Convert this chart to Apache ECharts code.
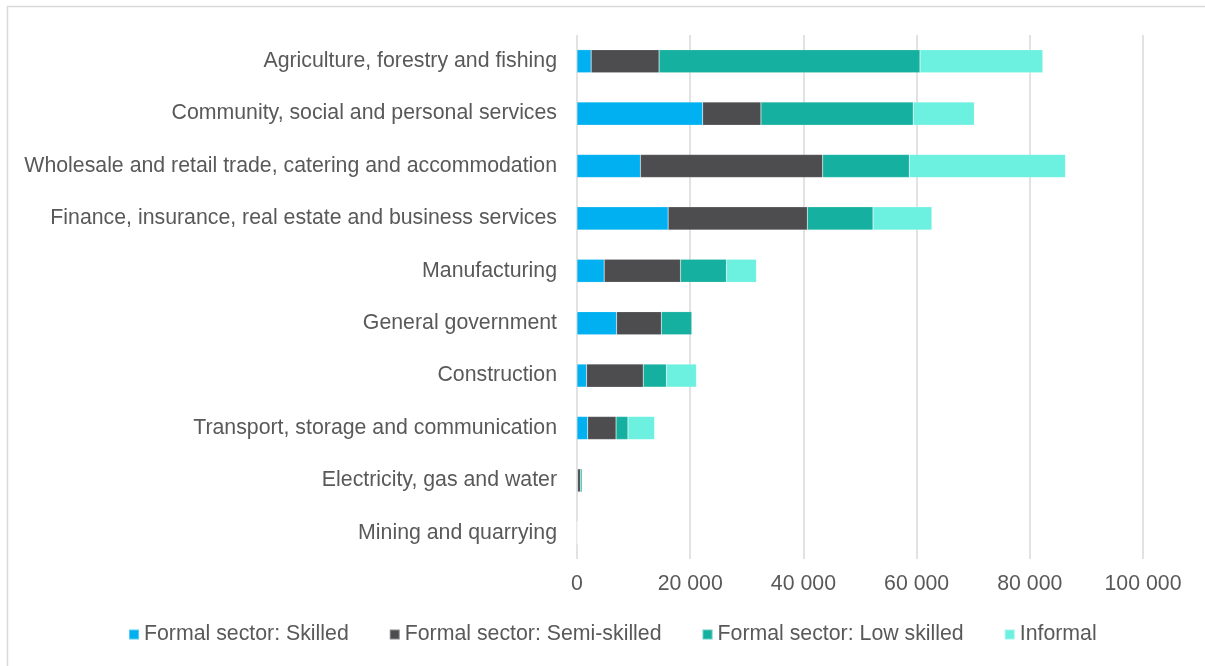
<!DOCTYPE html>
<html>
<head>
<meta charset="utf-8">
<script src="https://cdn.jsdelivr.net/npm/echarts@6/dist/echarts.min.js"></script>
<style>
  html, body { margin: 0; padding: 0; background: #ffffff; }
  #chart { width: 1205px; height: 666px; }
</style>
</head>
<body>
<div id="chart"></div>
<script>
// Sectors, listed top to bottom
const sectors = [
  'Agriculture, forestry and fishing',
  'Community, social and personal services',
  'Wholesale and retail trade, catering and accommodation',
  'Finance, insurance, real estate and business services',
  'Manufacturing',
  'General government',
  'Construction',
  'Transport, storage and communication',
  'Electricity, gas and water',
  'Mining and quarrying'
];

// Employment by skill level (number of workers)
const formalSkilled     = [2500, 22200, 11200, 16100, 4800, 7000, 1700, 1900, 100, 20];
const formalSemiSkilled = [12000, 10300, 32200, 24600, 13500, 7900, 10000, 5000, 500, 40];
const formalLowSkilled  = [46100, 26900, 15300, 11600, 8100, 5400, 4100, 2100, 300, 40];
const informal          = [21700, 10800, 27600, 10400, 5300, 0, 5300, 4700, 50, 20];

const seriesNames = [
  'Formal sector: Skilled',
  'Formal sector: Semi-skilled',
  'Formal sector: Low skilled',
  'Informal'
];
const seriesColors = ['#00B0F0', '#4D4D4F', '#15B09F', '#6CF0E0'];
const seriesData = [formalSkilled, formalSemiSkilled, formalLowSkilled, informal];

const chart = echarts.init(document.getElementById('chart'), null, { renderer: 'canvas' });

const textColor = '#595959';
const fontFamily = '"Liberation Sans", Arial, sans-serif';
const fontSize = 21.3;

chart.setOption({
  animation: false,
  textStyle: { fontFamily: fontFamily },
  graphic: [{
    type: 'rect',
    shape: { x: 7.5, y: 6.5, width: 1220, height: 700 },
    style: { fill: 'none', stroke: '#d9d9d9', lineWidth: 1.5 },
    silent: true,
    z: -10
  }],
  legend: {
    left: 123,
    top: 619,
    itemWidth: 10,
    itemHeight: 10,
    itemGap: 40,
    icon: 'rect',
    textStyle: { color: textColor, fontSize: fontSize, fontFamily: fontFamily },
    data: seriesNames
  },
  grid: {
    left: 577,
    right: 62,
    top: 35,
    bottom: 107,
    containLabel: false
  },
  xAxis: {
    type: 'value',
    min: 0,
    max: 100000,
    interval: 20000,
    axisLine: { show: false },
    axisTick: { show: false },
    splitLine: { show: true, lineStyle: { color: '#d9d9d9', width: 1.5 } },
    axisLabel: {
      color: textColor,
      fontSize: fontSize,
      margin: 15,
      formatter: function (v) {
        return String(v).replace(/\B(?=(\d{3})+(?!\d))/g, ' ');
      }
    }
  },
  yAxis: {
    type: 'category',
    inverse: true,
    data: sectors,
    axisLine: { show: false },
    axisTick: { show: false },
    splitLine: { show: false },
    axisLabel: { color: textColor, fontSize: fontSize, margin: 20 }
  },
  series: seriesNames.map(function (name, i) {
    return {
      name: name,
      type: 'bar',
      stack: 'total',
      data: seriesData[i],
      barCategoryGap: '56%',
      itemStyle: { color: seriesColors[i], borderColor: 'rgba(255,255,255,0.35)', borderWidth: 0.5 }
    };
  })
});
</script>
</body>
</html>
